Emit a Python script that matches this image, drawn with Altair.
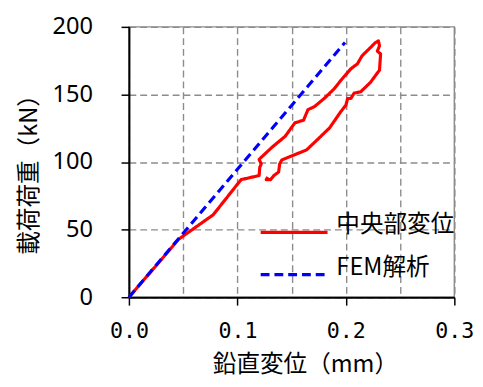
import altair as alt
import pandas as pd

# 中央部変位 (measured, ordered path)
disp_x = [0.0, 0.046, 0.0777, 0.1034, 0.120, 0.1206, 0.122, 0.120, 0.132, 0.144, 0.153, 0.161,
          0.165, 0.171, 0.180, 0.189, 0.1955, 0.2046, 0.2106, 0.215, 0.2227, 0.2272, 0.230,
          0.231, 0.229, 0.232, 0.231, 0.2227, 0.2137, 0.2076, 0.2046, 0.2016, 0.200, 0.1955,
          0.185, 0.1743, 0.1638, 0.141, 0.139, 0.138, 0.1336, 0.1305, 0.1266, 0.128]
disp_y = [0, 43, 61, 87, 90, 96, 98.7, 102, 111, 119, 129, 131,
          138.7, 141, 147, 154, 160.5, 169, 172.6, 178.7, 184.7, 188.4, 189.6,
          186, 182, 180, 168, 159, 152, 151, 147, 147, 142, 137.5,
          125.3, 117, 109, 101.6, 98.7, 92.6, 90, 87, 87, 89]

# FEM解析
fem_x = [0.0, 0.05, 0.1, 0.15, 0.1992]
fem_y = [0, 47.3, 94.6, 141.9, 188.4]

series_names = ["中央部変位", "FEM解析"]
series_colors = ["#ff0000", "#0000ff"]
series_dashes = [[1, 0], [9, 5]]

rows = []
for i, (x, y) in enumerate(zip(disp_x, disp_y)):
    rows.append({"x": x, "y": y, "s": series_names[0], "o": i})
for i, (x, y) in enumerate(zip(fem_x, fem_y)):
    rows.append({"x": x, "y": y, "s": series_names[1], "o": i})
df = pd.DataFrame(rows)

x_grid_values = [0.0, 0.05, 0.1, 0.15, 0.2, 0.25, 0.3]
y_values = [0, 50, 100, 150, 200]

jp = "Noto Sans CJK JP"
minor = "abs(datum.value*10 - round(datum.value*10)) > 0.01"

chart = alt.Chart(df).mark_line(strokeWidth=3.2, strokeCap="butt", strokeJoin="round").encode(
    x=alt.X("x:Q", scale=alt.Scale(domain=[0, 0.3], nice=False),
            axis=alt.Axis(values=x_grid_values, title="鉛直変位（mm）",
                          labelExpr=f"{minor} ? '' : format(datum.value, '.1f') + ' '",
                          tickOpacity={"condition": {"test": minor, "value": 0}, "value": 1},
                          labelFont="DejaVu Sans Mono", labelFontSize=22, labelPadding=16,
                          labelFlush=False,
                          titleFontSize=24, titlePadding=12, titleX=179)),
    y=alt.Y("y:Q", scale=alt.Scale(domain=[0, 200], nice=False),
            axis=alt.Axis(values=y_values, title="載荷荷重（kN）",
                          labelFont="Noto Sans", labelFontSize=24, labelPadding=29,
                          labelFlush=False,
                          titleFontSize=24, titlePadding=11, titleY=144, titleLimit=400)),
    color=alt.Color("s:N", scale=alt.Scale(domain=series_names, range=series_colors),
                    legend=alt.Legend(title=None, orient="none", legendX=132, legendY=173,
                                      symbolType="stroke", symbolSize=4624, symbolStrokeWidth=3.5,
                                      labelFont=jp, labelFontSize=24, labelColor="#000",
                                      labelOffset=7, rowPadding=-33, labelBaseline="alphabetic")),
    strokeDash=alt.StrokeDash("s:N", scale=alt.Scale(domain=series_names, range=series_dashes),
                              legend=None),
    order="o:Q",
).properties(
    width=331, height=275,
    background="white",
    autosize=alt.AutoSizeParams(type="none"),
    padding={"left": 123, "top": 16, "right": 21, "bottom": 82},
).configure_view(
    stroke="#8c8c8c", strokeWidth=1.5
).configure_axis(
    domainColor="#000", domainWidth=2, tickColor="#000", tickWidth=1.5, tickSize=8,
    grid=True, gridColor="#8c8c8c", gridDash=[7, 4], gridWidth=1.4, gridOpacity=1,
    labelColor="#000", titleColor="#000", titleFont=jp, titleFontWeight="normal",
)

chart.save("out.html", embed_options={"renderer": "svg", "actions": False})
